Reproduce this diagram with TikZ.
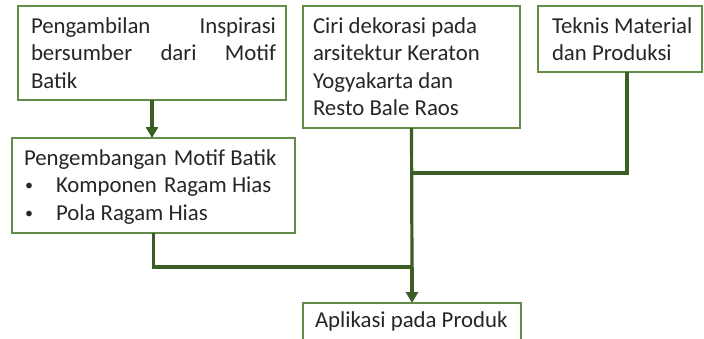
\documentclass[tikz,border=0pt]{standalone}
\usepackage{fontspec}
\setmainfont{Carlito}
\usetikzlibrary{arrows.meta}
\definecolor{boxgreen}{HTML}{638C48}
\definecolor{linkgreen}{HTML}{3B5E24}
\begin{document}
\begin{tikzpicture}[x=1pt,y=-1pt,
  box/.style={draw=boxgreen, line width=1.4pt, anchor=north west, inner sep=0pt, outer sep=0pt},
  txt/.style={anchor=base west, inner sep=0pt, outer sep=0pt, font=\fontsize{22.8}{27.5}\selectfont, text=black!85},
  bul/.style={anchor=base west, inner sep=0pt, outer sep=0pt, font=\fontsize{16}{20}\selectfont, text=black!85},
  link/.style={draw=linkgreen, line width=3.2pt},
  arr/.style={link, -{Triangle[length=11pt,width=12pt]}}]
\useasboundingbox (0,0) rectangle (704,338);
% boxes
\node[box, minimum width=268pt, minimum height=94pt] (b1) at (18,6) {};
\node[box, minimum width=283pt, minimum height=95pt] (b2) at (12,138) {};
\node[box, minimum width=217pt, minimum height=122pt] (b3) at (303,6) {};
\node[box, minimum width=164pt, minimum height=66pt] (b4) at (538,6) {};
\node[box, minimum width=218pt, minimum height=50pt] (b5) at (303,303) {};
% texts
\node[txt] (t11) at (31,33) {\hbox to 245pt{Pengambilan\hfill Inspirasi}};
\node[txt] (t12) at (31,60.5) {\hbox to 245pt{bersumber\hfill dari\hfill Motif}};
\node[txt] (t13) at (31,88) {Batik};
\node[txt] (t31) at (313,33) {Ciri dekorasi pada};
\node[txt] (t32) at (313,60.5) {arsitektur Keraton};
\node[txt] (t33) at (313,88) {Yogyakarta dan};
\node[txt] (t34) at (313,115.5) {Resto Bale Raos};
\node[txt] (t41) at (552,33) {Teknis Material};
\node[txt] (t42) at (552,60.5) {dan Produksi};
\node[txt] (t21) at (24,165) {Pengembangan\hspace{2pt} Motif Batik};
\node[bul] (u1) at (25,190.5) {•};
\node[txt] (t22) at (56,192.5) {Komponen\hspace{2pt} Ragam Hias};
\node[bul] (u2) at (25,218) {•};
\node[txt] (t23) at (56,220) {Pola Ragam Hias};
\node[txt] (t51) at (315,327.5) {Aplikasi pada Produk};
% connectors
\coordinate (j1) at (412,267);
\coordinate (j2) at (412,173);
\draw[arr] (b1.south) -- (b1.south |- b2.north);
\draw[link] (b2.south) |- (j1);
\draw[link] (b3.south) -- (j1);
\draw[link] ([xshift=7pt]b4.south) |- (j2);
\draw[arr] (j1) -- (b5.north);
\end{tikzpicture}
\end{document}
